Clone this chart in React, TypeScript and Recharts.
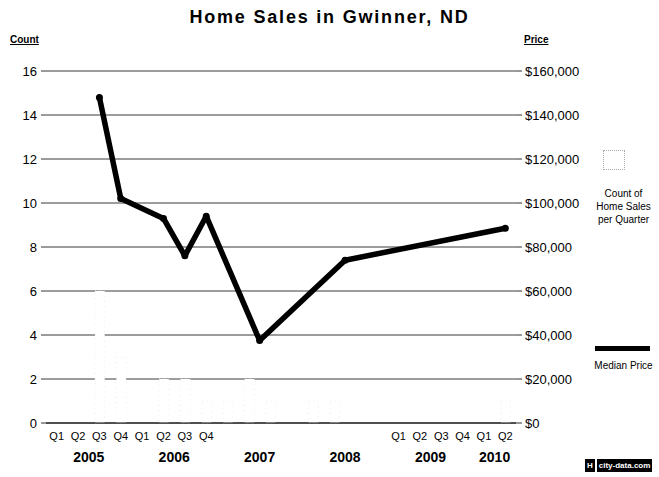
import {
  ComposedChart,
  Bar,
  Line,
  XAxis,
  YAxis,
  CartesianGrid,
  Legend,
} from "recharts";

// quarters on the x axis, 2005 Q1 .. 2010 Q2
const years = ["2005", "2006", "2007", "2008", "2009", "2010"];
const quarterNames = ["Q1", "Q2", "Q3", "Q4"];
const quarters = years.flatMap((y) => quarterNames.map((q) => `${y} ${q}`)).slice(0, 22);

// count of home sales per quarter (bars are washed out in the source)
const salesCount = [0, 0, 6, 3, 0, 2, 2, 1, 1, 2, 1, 0, 1, 1, 0, 0, 0, 0, 0, 0, 0, 1];

// median price, by period (2007 and 2008 are yearly figures)
const pricePeriods = ["2005 Q3", "2005 Q4", "2006 Q2", "2006 Q3", "2006 Q4", "2007", "2008", "2010 Q2"];
const priceValues = [148000, 102000, 93000, 76000, 94000, 37500, 74000, 88500];

// which quarters get a label under the axis
const labelledQuarters = [
  "2005 Q1", "2005 Q2", "2005 Q3", "2005 Q4", "2006 Q1", "2006 Q2", "2006 Q3", "2006 Q4",
  "2009 Q1", "2009 Q2", "2009 Q3", "2009 Q4", "2010 Q1", "2010 Q2",
];

const countTicks = [0, 2, 4, 6, 8, 10, 12, 14, 16];
const priceTicks = [0, 20000, 40000, 60000, 80000, 100000, 120000, 140000, 160000];

const FONT = "'Liberation Sans', Arial, sans-serif";

// period -> position on the quarter scale (quarter centre, or year centre)
function periodPos(p: string) {
  const qi = quarters.indexOf(p);
  if (qi >= 0) return qi + 0.5;
  const first = quarters.findIndex((q) => q.startsWith(p));
  const n = quarters.filter((q) => q.startsWith(p)).length;
  return first + n / 2;
}

const rowsMap = new Map<number, { x: number; count?: number; price?: number }>();
quarters.forEach((q, i) => {
  rowsMap.set(i + 0.5, { x: i + 0.5, count: salesCount[i] > 0 ? salesCount[i] : undefined });
});
pricePeriods.forEach((p, i) => {
  const x = periodPos(p);
  const row = rowsMap.get(x) || { x };
  row.price = priceValues[i];
  rowsMap.set(x, row);
});
const data = Array.from(rowsMap.values()).sort((a, b) => a.x - b.x);

const boundaryTicks = quarters.map((_, i) => i).concat([quarters.length]);
const quarterTicks = labelledQuarters.map(periodPos);
const yearTicks = years.map(periodPos);

const fmtPrice = (v: number) => "$" + v.toLocaleString("en-US");

function LegendBox() {
  return (
    <div style={{ position: "relative", width: 71, height: 240, fontFamily: FONT, color: "#000" }}>
      <div
        style={{
          position: "absolute",
          left: 15,
          top: 5,
          width: 20,
          height: 18,
          border: "1px dotted #aaa",
        }}
      />
      <div style={{ position: "absolute", left: 0, top: 42, width: 71, textAlign: "center", fontSize: 10, lineHeight: "13px" }}>
        Count of
        <br />
        Home Sales
        <br />
        per Quarter
      </div>
      <div style={{ position: "absolute", left: 7, top: 201, width: 55, height: 5, background: "#000" }} />
      <div style={{ position: "absolute", left: 0, top: 215, width: 71, textAlign: "center", fontSize: 10 }}>
        Median Price
      </div>
    </div>
  );
}

export default function App() {
  return (
    <div style={{ position: "absolute", left: 0, top: 0, width: 659, height: 477, background: "#fff", fontFamily: FONT }}>
      <div
        style={{
          position: "absolute",
          top: 7,
          left: 0,
          width: 659,
          textAlign: "center",
          fontSize: 18,
          fontWeight: "bold",
          letterSpacing: 1.8,
        }}
      >
        Home Sales in Gwinner, ND
      </div>
      <div style={{ position: "absolute", left: 10, top: 34, fontSize: 10, fontWeight: "bold", textDecoration: "underline" }}>
        Count
      </div>
      <div style={{ position: "absolute", left: 524, top: 34, fontSize: 10, fontWeight: "bold", textDecoration: "underline" }}>
        Price
      </div>

      <ComposedChart width={659} height={477} data={data} margin={{ top: 71, right: 73, bottom: 9, left: 8 }}>
        <CartesianGrid vertical={false} stroke="#3a3a3a" yAxisId="count" xAxisId="b" />
        <XAxis
          xAxisId="b"
          dataKey="x"
          type="number"
          domain={[0, 22]}
          ticks={boundaryTicks}
          interval={0}
          height={5}
          tickSize={4}
          tick={false}
          axisLine={{ stroke: "#000" }}
          tickLine={{ stroke: "#000" }}
        />
        <XAxis
          xAxisId="q"
          dataKey="x"
          type="number"
          domain={[0, 22]}
          ticks={quarterTicks}
          interval={0}
          height={20}
          tickSize={0}
          tickMargin={4}
          axisLine={false}
          tickLine={false}
          tickFormatter={(v: number) => quarters[Math.floor(v)].split(" ")[1]}
          tick={{ fill: "#000", fontSize: 11, fontFamily: FONT }}
        />
        <XAxis
          xAxisId="y"
          dataKey="x"
          type="number"
          domain={[0, 22]}
          ticks={yearTicks}
          interval={0}
          height={20}
          tickSize={0}
          tickMargin={4}
          axisLine={false}
          tickLine={false}
          tickFormatter={(v: number) => years[yearTicks.indexOf(v)]}
          tick={{ fill: "#000", fontSize: 14, fontWeight: "bold", fontFamily: FONT }}
        />
        <YAxis
          yAxisId="count"
          orientation="left"
          domain={[0, 16]}
          ticks={countTicks}
          interval={0}
          width={38}
          tickSize={5}
          tickMargin={4}
          axisLine={false}
          tickLine={{ stroke: "#333" }}
          tick={{ fill: "#000", fontSize: 13, fontFamily: FONT }}
        />
        <YAxis
          yAxisId="price"
          orientation="right"
          domain={[0, 160000]}
          ticks={priceTicks}
          interval={0}
          width={70}
          tickSize={6}
          tickMargin={3}
          axisLine={false}
          tickLine={{ stroke: "#333" }}
          tickFormatter={fmtPrice}
          tick={{ fill: "#000", fontSize: 13, fontFamily: FONT }}
        />
        <Bar
          xAxisId="b"
          yAxisId="count"
          dataKey="count"
          name="Count of Home Sales per Quarter"
          barSize={14}
          fill="#ffffff"
          stroke="#ececec"
          strokeDasharray="1 4"
          isAnimationActive={false}
        />
        <Line
          xAxisId="b"
          yAxisId="price"
          dataKey="price"
          name="Median Price"
          type="linear"
          stroke="#000"
          strokeWidth={5.5}
          strokeLinejoin="round"
          strokeLinecap="round"
          connectNulls
          dot={{ r: 3.5, fill: "#000", stroke: "none" }}
          activeDot={false}
          isAnimationActive={false}
        />
        <Legend
          layout="vertical"
          align="center"
          verticalAlign="middle"
          content={() => <LegendBox />}
          wrapperStyle={{ position: "absolute", left: 588, top: 145, width: 71, height: 240 }}
        />
      </ComposedChart>

      <div
        style={{
          position: "absolute",
          left: 585,
          top: 459,
          height: 13,
          display: "flex",
          alignItems: "center",
          fontSize: 8,
          fontWeight: "bold",
          whiteSpace: "nowrap",
        }}
      >
        <span style={{ background: "#000", color: "#fff", padding: "0 2px", lineHeight: "13px", marginRight: 2 }}>H</span>
        <span style={{ background: "#000", color: "#fff", padding: "0 2px", lineHeight: "13px" }}>city-data.com</span>
      </div>
    </div>
  );
}
